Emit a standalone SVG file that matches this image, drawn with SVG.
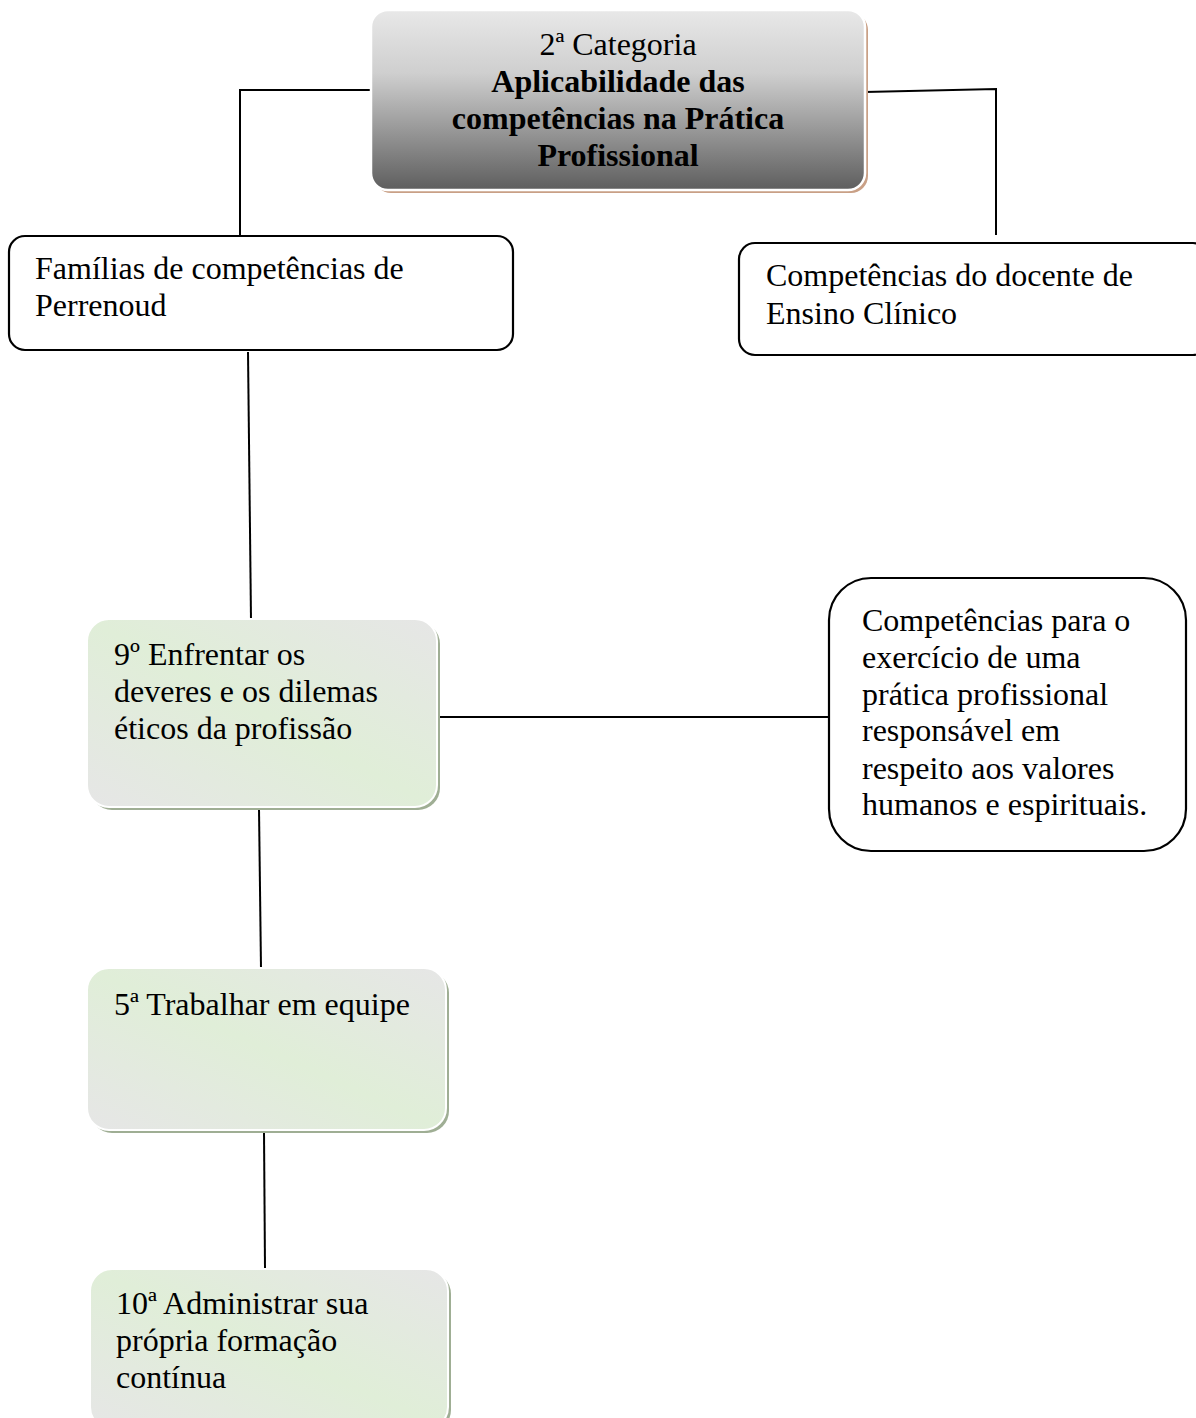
<svg xmlns="http://www.w3.org/2000/svg" width="1196" height="1418" viewBox="0 0 1196 1418">
  <defs>
    <linearGradient id="greyFill" x1="0" y1="0" x2="0" y2="1">
      <stop offset="0" stop-color="#e8e8e8"/>
      <stop offset="0.35" stop-color="#cfcfcf"/>
      <stop offset="1" stop-color="#5e5e5e"/>
    </linearGradient>
    <linearGradient id="greenFill" x1="0" y1="1" x2="1" y2="0">
      <stop offset="0" stop-color="#e6e6e6"/>
      <stop offset="0.5" stop-color="#e0eed8"/>
      <stop offset="1" stop-color="#e6e6e6"/>
    </linearGradient>
    <style>
      text { font-family: "Liberation Serif", "Times New Roman", serif; font-size: 32px; fill: #000; }
      .bold { font-weight: bold; }
      .outline { fill: #fff; stroke: #000; stroke-width: 2.2; }
      .greenBox { fill: url(#greenFill); stroke: #fff; stroke-width: 2; }
      .greenShadow { fill: #9fae94; }
      .conn { fill: none; stroke: #000; stroke-width: 2; }
    </style>
  </defs>

  <g id="connectors">
    <polyline class="conn" points="372,90 240,90 240,235"/>
    <polyline class="conn" points="865,92 996,89 996,235"/>
    <line class="conn" x1="248" y1="352" x2="251" y2="620"/>
    <line class="conn" x1="437" y1="717" x2="828" y2="717"/>
    <line class="conn" x1="259" y1="809" x2="261" y2="969"/>
    <line class="conn" x1="264" y1="1132" x2="265" y2="1269"/>
  </g>

  <g id="category">
    <rect x="374" y="13" width="494" height="180" rx="17" fill="#c9a086"/>
    <rect x="371" y="10" width="494" height="180" rx="17" fill="url(#greyFill)" stroke="#fff" stroke-width="2.5"/>
    <text x="618" y="55" text-anchor="middle">2ª Categoria</text>
    <text class="bold" x="618" y="92" text-anchor="middle">Aplicabilidade das</text>
    <text class="bold" x="618" y="129" text-anchor="middle">competências na Prática</text>
    <text class="bold" x="618" y="166" text-anchor="middle">Profissional</text>
  </g>

  <g id="familias">
    <rect class="outline" x="9" y="236" width="504" height="114" rx="16"/>
    <text x="35" y="279">Famílias de competências de</text>
    <text x="35" y="316">Perrenoud</text>
  </g>

  <g id="docente">
    <rect class="outline" x="739" y="243" width="470" height="112" rx="16"/>
    <text x="766" y="286">Competências do docente de</text>
    <text x="766" y="324">Ensino Clínico</text>
  </g>

  <g id="competencia9">
    <rect class="greenShadow" x="90" y="622" width="350" height="188" rx="22"/>
    <rect class="greenBox" x="87" y="619" width="350" height="188" rx="22"/>
    <text x="114" y="665">9º Enfrentar os</text>
    <text x="114" y="702">deveres e os dilemas</text>
    <text x="114" y="739">éticos da profissão</text>
  </g>

  <g id="pratica">
    <rect class="outline" x="829" y="578" width="357" height="273" rx="42"/>
    <text x="862" y="631">Competências para o</text>
    <text x="862" y="668">exercício de uma</text>
    <text x="862" y="705">prática profissional</text>
    <text x="862" y="741">responsável em</text>
    <text x="862" y="779">respeito aos valores</text>
    <text x="862" y="815">humanos e espirituais.</text>
  </g>

  <g id="competencia5">
    <rect class="greenShadow" x="90" y="971" width="359" height="162" rx="22"/>
    <rect class="greenBox" x="87" y="968" width="359" height="162" rx="22"/>
    <text x="114" y="1015">5ª Trabalhar em equipe</text>
  </g>

  <g id="competencia10">
    <rect class="greenShadow" x="93" y="1272" width="358" height="160" rx="22"/>
    <rect class="greenBox" x="90" y="1269" width="358" height="160" rx="22"/>
    <text x="116" y="1314">10ª Administrar sua</text>
    <text x="116" y="1351">própria formação</text>
    <text x="116" y="1388">contínua</text>
  </g>
</svg>
